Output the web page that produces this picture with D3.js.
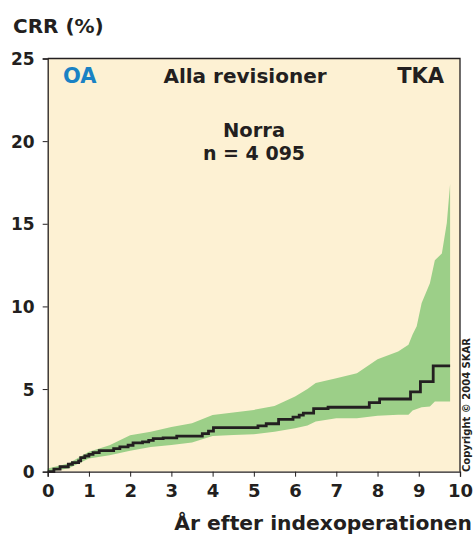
<!DOCTYPE html>
<html>
<head>
<meta charset="utf-8">
<script src="https://cdn.jsdelivr.net/npm/d3@7"></script>
<style>
  body { margin: 0; background: #fff; }
  text { font-family: "DejaVu Sans", sans-serif; font-weight: 700; fill: #231f20; }
</style>
</head>
<body>
<div id="chart"></div>
<script>
// step line (CRR)
var lineYears = [0, 0.15, 0.3, 0.5, 0.6, 0.75, 0.8, 0.9, 1.0, 1.1, 1.25, 1.5, 1.6, 1.75, 1.95, 2.07, 2.3, 2.45, 2.56, 2.8, 3.13, 3.6, 3.75, 3.9, 4.02, 5.0, 5.1, 5.3, 5.6, 5.95, 6.1, 6.2, 6.45, 6.8, 7.7, 7.8, 8.05, 8.8, 9.04, 9.35, 9.76];
var lineCrr   = [0, 0.15, 0.3, 0.45, 0.55, 0.65, 0.85, 0.95, 1.05, 1.15, 1.27, 1.27, 1.4, 1.5, 1.6, 1.75, 1.8, 1.9, 2.0, 2.05, 2.15, 2.15, 2.3, 2.45, 2.67, 2.67, 2.77, 2.9, 3.17, 3.3, 3.42, 3.54, 3.82, 3.9, 3.9, 4.18, 4.4, 4.83, 5.45, 6.4, 6.4];

// confidence band
var bandYears = [0, 0.5, 1, 1.5, 2, 2.5, 3, 3.5, 4, 4.5, 5, 5.5, 6, 6.3, 6.5, 7, 7.5, 8, 8.5, 8.75, 8.85, 8.95, 9.07, 9.27, 9.39, 9.56, 9.68, 9.76];
var bandUpper = [0.2, 0.5, 1.2, 1.6, 2.2, 2.42, 2.7, 2.93, 3.43, 3.58, 3.74, 3.98, 4.55, 5.0, 5.36, 5.66, 5.96, 6.8, 7.27, 7.68, 8.3, 8.8, 10.2, 11.4, 12.8, 13.2, 15.05, 17.4];
var bandLower = [0, 0.2, 0.8, 1.0, 1.27, 1.5, 1.62, 1.76, 2.16, 2.22, 2.26, 2.42, 2.63, 2.8, 3.03, 3.24, 3.24, 3.38, 3.44, 3.44, 3.7, 3.8, 3.9, 3.95, 4.24, 4.24, 4.24, 4.24];

var xTicks = [0, 1, 2, 3, 4, 5, 6, 7, 8, 9, 10];
var yTicks = [0, 5, 10, 15, 20, 25];

var width = 474, height = 537;
var margin = {left: 47.7, right: 14, top: 58.5, bottom: 65.3};

var svg = d3.select("#chart").append("svg")
    .attr("width", width)
    .attr("height", height);

var x = d3.scaleLinear().domain([0, 10]).range([margin.left, width - margin.right]);
var y = d3.scaleLinear().domain([0, 25]).range([height - margin.bottom, margin.top]);

// background
svg.append("rect")
    .attr("x", x(0)).attr("y", y(25))
    .attr("width", x(10) - x(0)).attr("height", y(0) - y(25))
    .attr("fill", "#fdf1d3");

// band
var band = bandYears.map(function(d, i) { return {x: d, lo: bandLower[i], hi: bandUpper[i]}; });
svg.append("path")
    .datum(band)
    .attr("d", d3.area().x(d => x(d.x)).y0(d => y(d.lo)).y1(d => y(d.hi)))
    .attr("fill", "#9ccf88");

// crr line
var pts = lineYears.map(function(d, i) { return [d, lineCrr[i]]; });
svg.append("path")
    .datum(pts)
    .attr("d", d3.line().x(d => x(d[0])).y(d => y(d[1])).curve(d3.curveStepAfter))
    .attr("fill", "none")
    .attr("stroke", "#231f20")
    .attr("stroke-width", 2.8);

// frame (top + right)
svg.append("path")
    .attr("d", "M" + x(0) + "," + y(25) + "H" + x(10) + "V" + y(0))
    .attr("fill", "none").attr("stroke", "#231f20").attr("stroke-width", 1.3);

// axes
var yAxis = d3.axisLeft(y).tickValues(yTicks).tickSize(5).tickPadding(8);
var gy = svg.append("g").attr("transform", "translate(" + x(0) + ",0)").call(yAxis);
var xAxis = d3.axisBottom(x).tickValues(xTicks).tickSize(5).tickPadding(8);
var gx = svg.append("g").attr("transform", "translate(0," + y(0) + ")").call(xAxis);

[gy, gx].forEach(function(g) {
  g.select(".domain").attr("stroke", "#231f20").attr("stroke-width", 1.3);
  g.selectAll(".tick line").attr("stroke", "#231f20").attr("stroke-width", 1);
  g.selectAll(".tick text")
    .attr("font-family", "DejaVu Sans, sans-serif")
    .attr("font-weight", 700)
    .attr("fill", "#231f20");
});
gy.selectAll(".tick text").attr("font-size", 17).attr("dy", "0.36em");
gx.selectAll(".tick text").attr("font-size", 18);

// texts
svg.append("text").attr("x", 13).attr("y", 33).attr("font-size", 20).text("CRR (%)");
svg.append("text").attr("x", 63).attr("y", 83).attr("font-size", 21).style("fill", "#1a82c4").text("OA");
svg.append("text").attr("x", 245).attr("y", 83).attr("font-size", 20).attr("text-anchor", "middle").text("Alla revisioner");
svg.append("text").attr("x", 444).attr("y", 83).attr("font-size", 21).attr("text-anchor", "end").text("TKA");
svg.append("text").attr("x", 254).attr("y", 137).attr("font-size", 19.5).attr("text-anchor", "middle").text("Norra");
svg.append("text").attr("x", 254).attr("y", 160).attr("font-size", 19).attr("text-anchor", "middle").text("n = 4 095");
svg.append("text").attr("x", 472).attr("y", 530).attr("font-size", 20.3).attr("text-anchor", "end").text("År efter indexoperationen");
svg.append("text")
    .attr("transform", "translate(470,472) rotate(-90)")
    .attr("font-size", 10)
    .text("Copyright © 2004 SKAR");
</script>
</body>
</html>
